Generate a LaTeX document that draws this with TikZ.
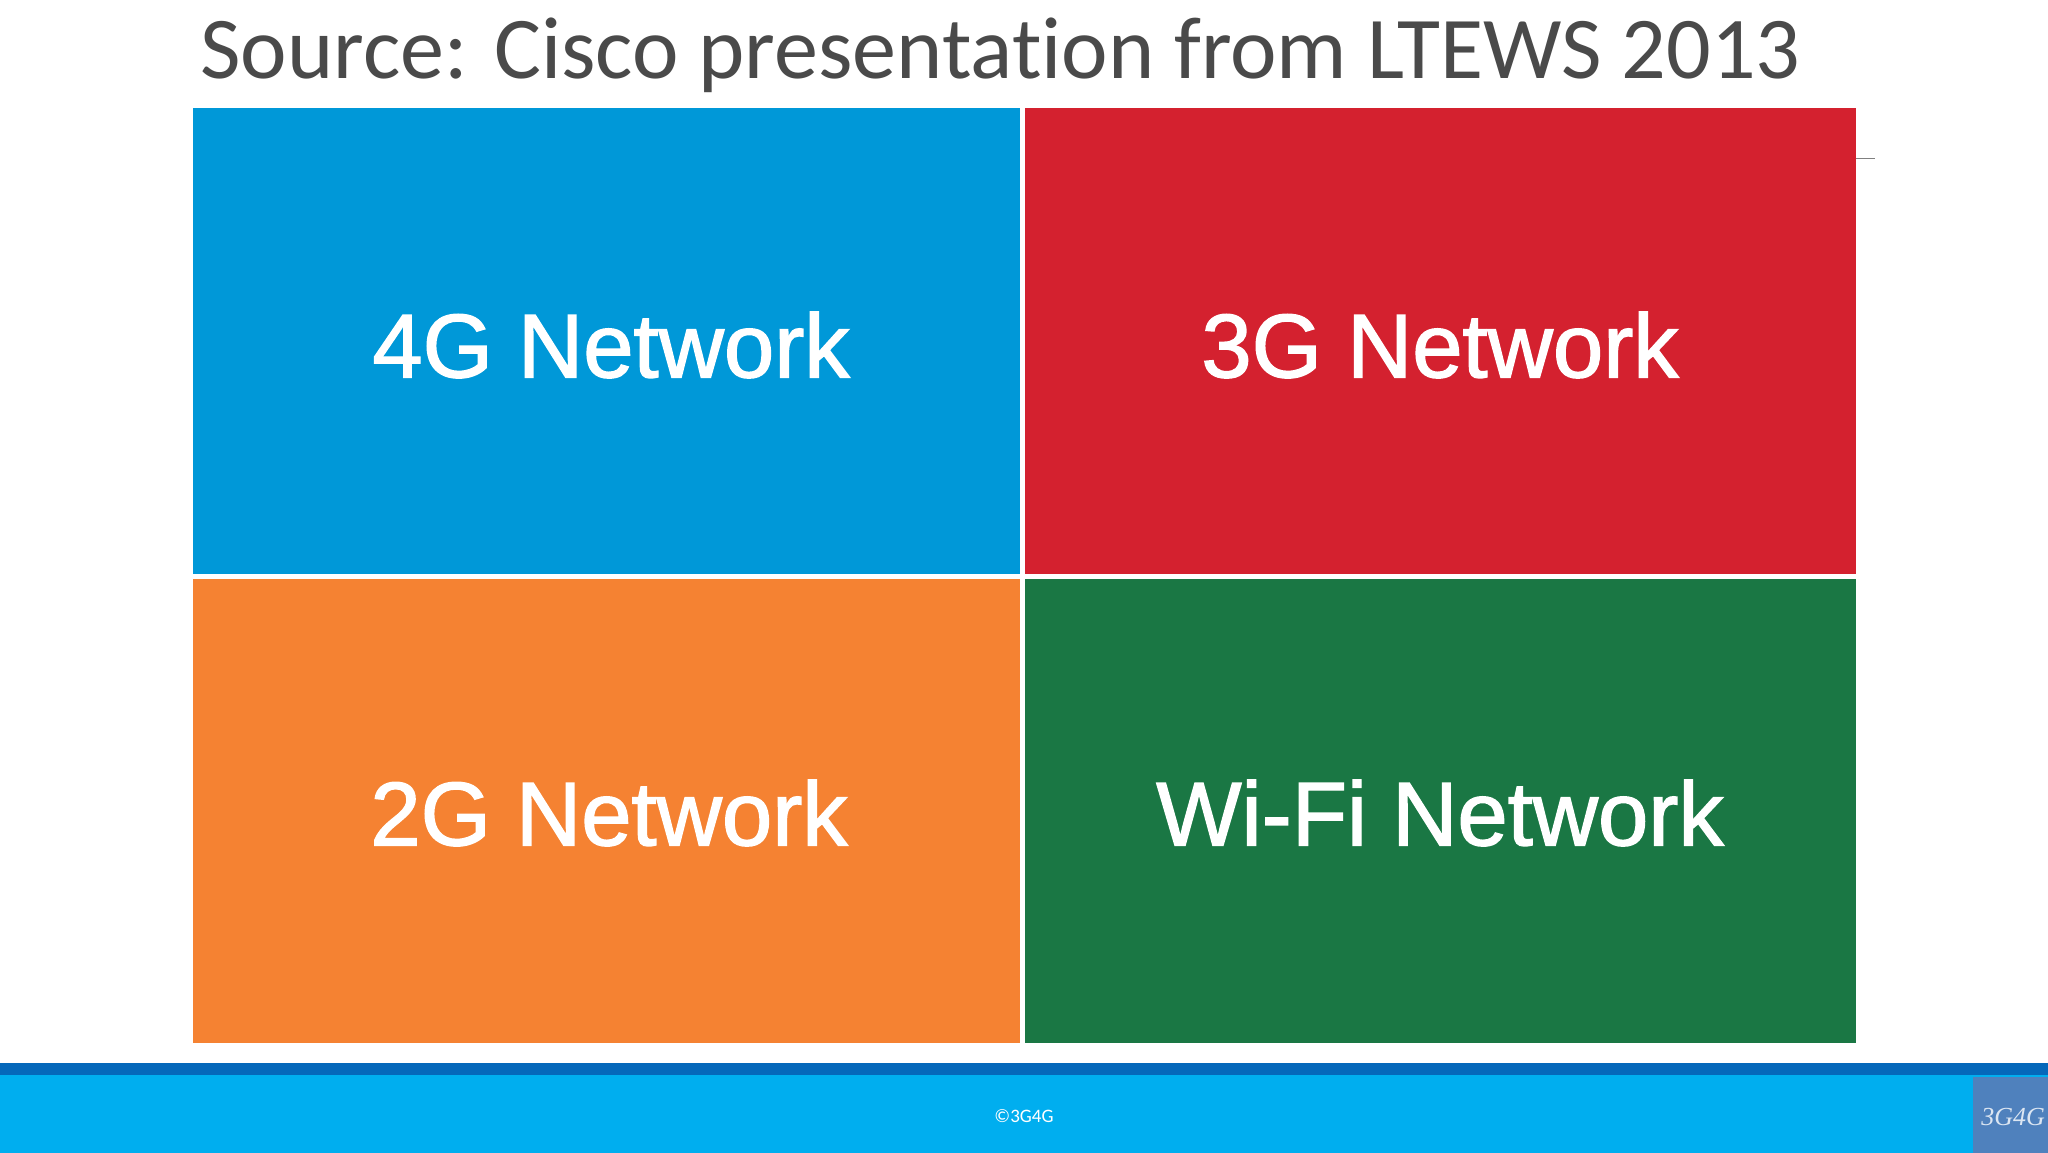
\documentclass[tikz,border=0pt]{standalone}
\usepackage{fontspec}
\setmainfont{Liberation Sans}
\newfontfamily\titlefont[Ligatures=NoCommon]{Carlito}
\newfontfamily\logofont{Liberation Serif}
\newcommand{\heavytext}[2]{\special{pdf:code q 2 Tr #1 w 1 1 1 RG}#2\special{pdf:code Q}}
\definecolor{tileblue}{HTML}{0098D8}
\definecolor{tilered}{HTML}{D4212F}
\definecolor{tileorange}{HTML}{F58232}
\definecolor{tilegreen}{HTML}{1A7744}
\definecolor{banddark}{HTML}{0568BA}
\definecolor{bandlight}{HTML}{00AEEF}
\definecolor{logobox}{HTML}{4F81BD}
\definecolor{titlegrey}{HTML}{4A4A4A}
\definecolor{logotext}{HTML}{DCE6F2}
\tikzset{
  tile/.style={draw=none,inner sep=0pt,outer sep=0pt,anchor=north west,rectangle},
  tilelabel/.style={text=white,font=\fontsize{45.2}{50}\selectfont,inner sep=0pt},
  strip/.style={draw=none,inner sep=0pt,outer sep=0pt,anchor=north west,rectangle}
}
\begin{document}
\begin{tikzpicture}[x=0.5pt,y=-0.5pt]
\useasboundingbox (0,0) rectangle (2048,1152);
\fill[white] (0,0) rectangle (2048,1152);
\node[tile,fill=tileblue,minimum width=413.5pt,minimum height=233pt] (blue) at (192.5,108) {};
\node[tile,fill=tilered,minimum width=415.5pt,minimum height=233pt] (red) at (1024.5,108) {};
\node[tile,fill=tileorange,minimum width=413.5pt,minimum height=232pt] (orange) at (192.5,578.7) {};
\node[tile,fill=tilegreen,minimum width=415.5pt,minimum height=232pt] (green) at (1024.5,578.7) {};
\coordinate (tick) at (1875,158.5);
\coordinate (tickstart) at (1855.5,158.5);
\draw[gray,line width=0.6pt] (tickstart) -- (tick);
\node[tilelabel] (l4g) at (611,345) {\heavytext{0.7}{4G Network}};
\node[tilelabel] (l3g) at (1440,345) {\heavytext{0.7}{3G Network}};
\node[tilelabel] (l2g) at (609,813) {\heavytext{0.7}{2G Network}};
\node[tilelabel] (lwifi) at (1440,813) {\heavytext{0.7}{Wi-Fi Network}};
\node[anchor=west,inner sep=0pt,text=titlegrey,font=\titlefont\fontsize{44.05}{50}\selectfont] (title) at (200,55) {Source: Cisco presentation from LTEWS 2013};
\node[strip,fill=bandlight,minimum width=1024pt,minimum height=46pt] (band) at (0,1064) {};
\node[strip,fill=banddark,minimum width=1024pt,minimum height=6pt] (bandtop) at (0,1063) {};
\node[strip,fill=logobox,minimum width=38pt,minimum height=39pt] (logo) at (1973,1077) {};
\node[inner sep=0pt,text=white,font=\titlefont\fontsize{9.5}{11}\selectfont] (copy) at (1024,1116) {©3G4G};
\node[inner sep=0pt,text=logotext,font=\logofont\itshape\fontsize{13}{15}\selectfont] (logotxt) at (2013,1117) {3G4G};
\end{tikzpicture}
\end{document}
